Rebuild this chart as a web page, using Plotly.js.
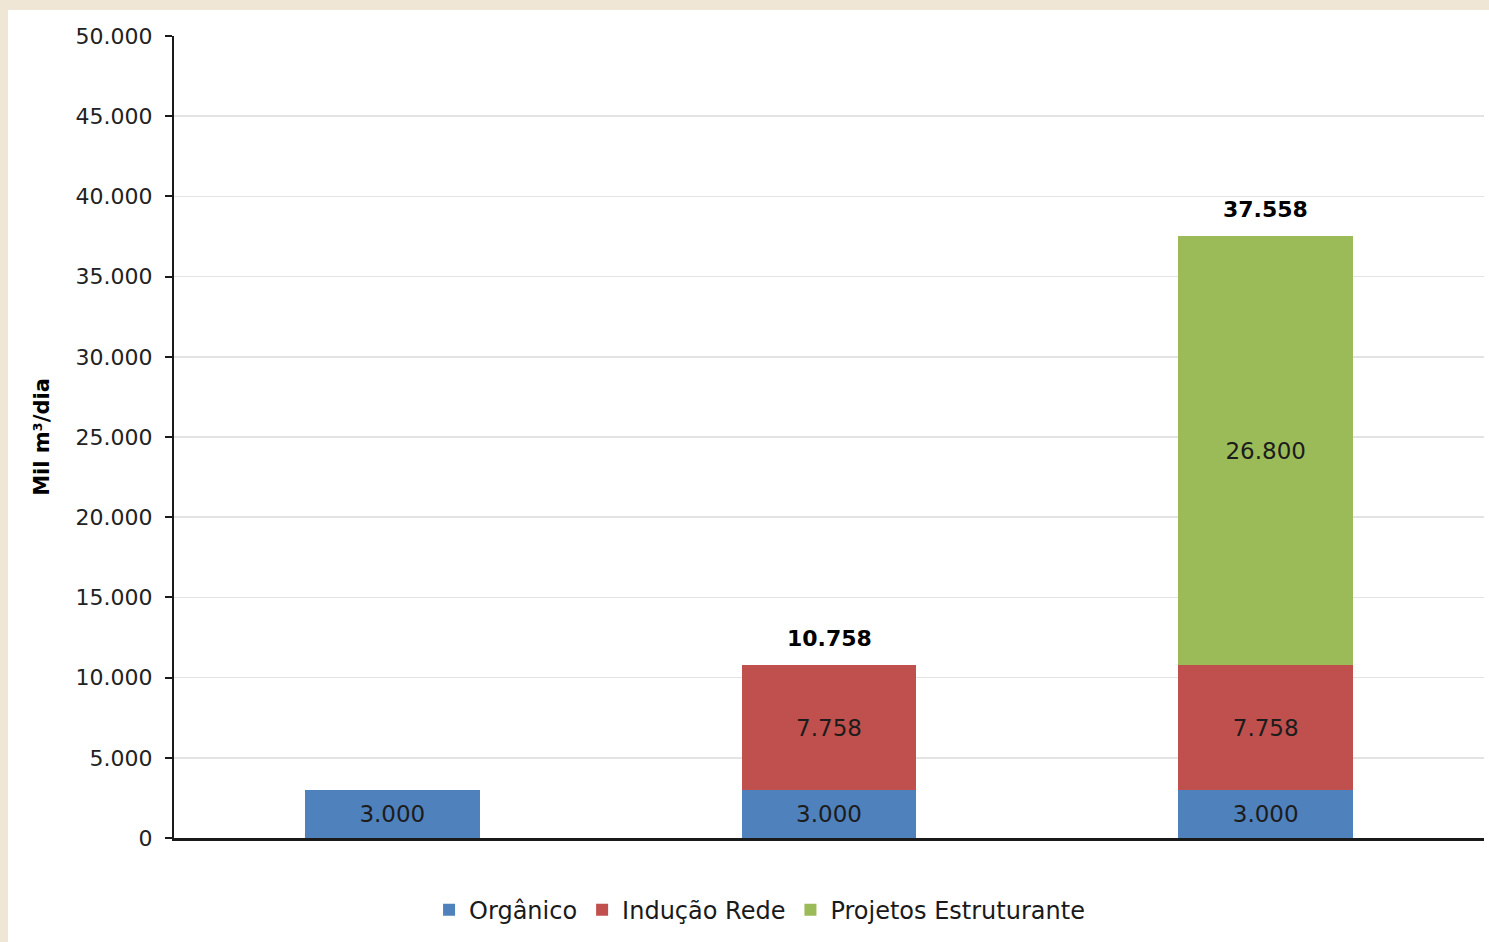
<!DOCTYPE html>
<html>
<head>
<meta charset="utf-8">
<script src="https://cdn.plot.ly/plotly-3.0.1.min.js"></script>
<style>
  html, body { margin: 0; padding: 0; width: 1489px; height: 942px; overflow: hidden;
    background: #efe6d6; }
  #chart { position: absolute; left: 8px; top: 10px; width: 1481px; height: 932px; background: #ffffff; }
</style>
</head>
<body>
<div id="chart"></div>
<script>
const categories = ["Cenário 1", "Cenário 2", "Cenário 3"];
const organico = [3000, 3000, 3000];
const inducaoRede = [null, 7758, 7758];
const projetosEstruturante = [null, null, 26800];
const showTotal = [false, true, true];
const yTicks = [0, 5000, 10000, 15000, 20000, 25000, 30000, 35000, 40000, 45000, 50000];

const totals = categories.map((c, i) =>
  (organico[i] || 0) + (inducaoRede[i] || 0) + (projetosEstruturante[i] || 0));

const fontFam = 'DejaVu Sans, Verdana, sans-serif';
const inFont = { family: fontFam, size: 23, color: '#1c1c1c' };

function barTrace(name, vals, color) {
  return {
    type: 'bar', name: name, x: categories, y: vals,
    marker: { color: color, line: { width: 0 } },
    texttemplate: '%{y:,d}', textposition: 'inside', insidetextanchor: 'middle',
    textangle: 0, constraintext: 'none', textfont: inFont,
    hoverinfo: 'none'
  };
}

const data = [
  barTrace('Orgânico', organico, '#4F81BD'),
  barTrace('Indução Rede', inducaoRede, '#C0504D'),
  barTrace('Projetos Estruturante', projetosEstruturante, '#9BBB59')
];

const annotations = categories.map((c, i) => showTotal[i] ? {
  x: c, y: totals[i], xref: 'x', yref: 'y',
  text: totals[i].toLocaleString('pt-BR'),
  showarrow: false, yanchor: 'bottom', yshift: 12,
  font: { family: fontFam, size: 22, color: '#000000', weight: 'bold' }
} : null).filter(a => a);

const layout = {
  width: 1481, height: 932,
  margin: { l: 166, r: 5, t: 26, b: 104 },
  paper_bgcolor: '#ffffff', plot_bgcolor: '#ffffff',
  separators: ',.',
  barmode: 'stack', bargap: 0.6,
  showlegend: true,
  annotations: annotations,
  legend: {
    orientation: 'h', x: 0.447, xanchor: 'center', y: -0.09, yanchor: 'middle',
    font: { family: fontFam, size: 24, color: '#1a1a1a' },
    traceorder: 'normal'
  },
  xaxis: {
    type: 'category', range: [-0.5, 2.5], showticklabels: false,
    showline: true, linecolor: '#1a1a1a', linewidth: 2.5, ticks: '',
    showgrid: false, zeroline: false, fixedrange: true
  },
  yaxis: {
    range: [0, 50000], tickvals: yTicks, tickformat: ',d',
    showline: true, linecolor: '#1a1a1a', linewidth: 2,
    ticks: 'outside', ticklen: 7, tickwidth: 2, tickcolor: '#1a1a1a',
    ticklabelstandoff: 8,
    showgrid: true, gridcolor: '#e3e3e3', gridwidth: 1.5,
    zeroline: false,
    tickfont: { family: fontFam, size: 22, color: '#222222' },
    title: { text: 'Mil m³/dia', standoff: 20,
      font: { family: fontFam, size: 21, color: '#000000', weight: 'bold' } },
    fixedrange: true
  }
};

Plotly.newPlot('chart', data, layout, { displayModeBar: false, staticPlot: true });
</script>
</body>
</html>
